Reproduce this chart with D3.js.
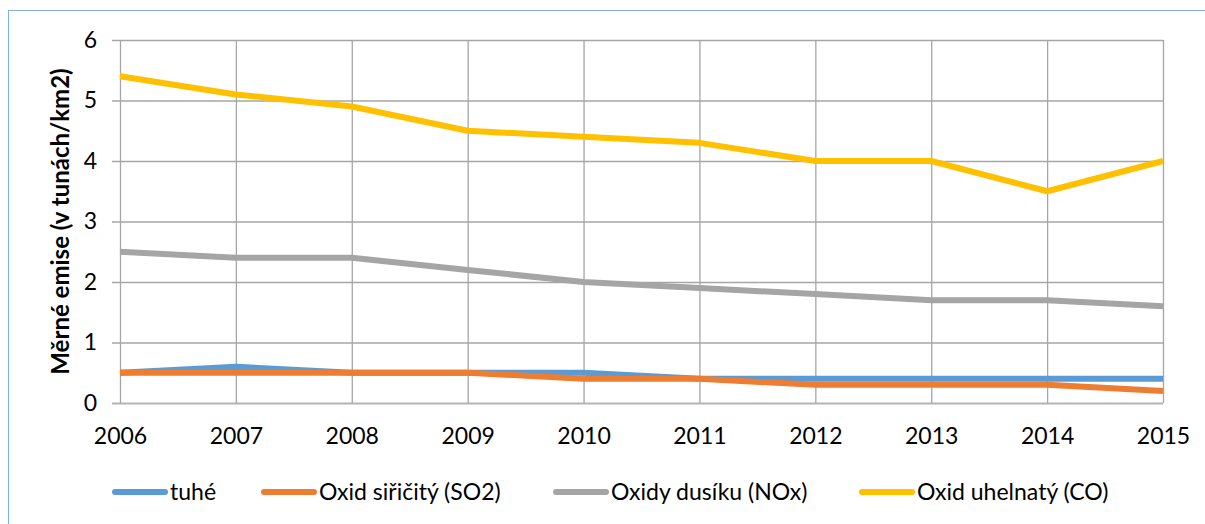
<!DOCTYPE html>
<html>
<head>
<meta charset="utf-8">
<script src="https://cdn.jsdelivr.net/npm/d3@7"></script>
<style>
  body { margin: 0; background: #fff; }
  svg { display: block; font-family: Lato, "Open Sans", sans-serif; }
</style>
</head>
<body>
<div id="chart"></div>
<script>
// data
var years = [2006, 2007, 2008, 2009, 2010, 2011, 2012, 2013, 2014, 2015];
var tuhe = [0.5, 0.6, 0.5, 0.5, 0.5, 0.4, 0.4, 0.4, 0.4, 0.4];
var so2 = [0.5, 0.5, 0.5, 0.5, 0.4, 0.4, 0.3, 0.3, 0.3, 0.2];
var nox = [2.5, 2.4, 2.4, 2.2, 2.0, 1.9, 1.8, 1.7, 1.7, 1.6];
var co = [5.4, 5.1, 4.9, 4.5, 4.4, 4.3, 4.0, 4.0, 3.5, 4.0];
var seriesNames = ["tuhé", "Oxid siřičitý (SO2)", "Oxidy dusíku (NOx)", "Oxid uhelnatý (CO)"];
var seriesColors = ["#5b9bd5", "#ed7d31", "#a5a5a5", "#ffc000"];
var yTicks = [0, 1, 2, 3, 4, 5, 6];
var yTitle = "Měrné emise (v tunách/km2)";

var series = [tuhe, so2, nox, co].map(function(vals, i) {
    return {name: seriesNames[i], color: seriesColors[i], values: vals};
});

var W = 1205, H = 524;
var margin = {top: 40, right: 42, bottom: 121, left: 120};
var width = W - margin.left - margin.right;
var height = H - margin.top - margin.bottom;

var svg = d3.select("#chart").append("svg")
    .attr("width", W)
    .attr("height", H);

// outer chart border
svg.append("rect")
    .attr("x", 8.5).attr("y", 10.5)
    .attr("width", W).attr("height", H)
    .attr("fill", "none")
    .attr("stroke", "#7eb0e0")
    .attr("stroke-width", 1);

var g = svg.append("g")
    .attr("transform", "translate(" + margin.left + "," + margin.top + ")");

var x = d3.scalePoint()
    .domain(years)
    .range([0, width]);

var y = d3.scaleLinear()
    .domain([0, 6])
    .range([height, 0]);

// horizontal gridlines (with the little tick stubs on the left)
g.append("g")
    .attr("transform", "translate(-8,0)")
    .call(d3.axisLeft(y).tickValues(yTicks).tickSize(-width - 8).tickFormat(""))
    .call(function(s) {
        s.select(".domain").remove();
        s.selectAll("line")
            .attr("stroke", d => d === 0 ? "#b3b3b3" : "#a6a6a6")
            .attr("stroke-width", d => d === 0 ? 2 : 1.3);
    });

// vertical gridlines
g.append("g")
    .attr("transform", "translate(0," + height + ")")
    .call(d3.axisBottom(x).tickSize(-height).tickFormat(""))
    .call(function(s) {
        s.select(".domain").remove();
        s.selectAll("line").attr("stroke", "#a6a6a6").attr("stroke-width", 1.3);
    });

// y tick labels
g.append("g")
    .call(d3.axisLeft(y).tickValues(yTicks).tickSize(0).tickPadding(23).tickFormat(d3.format("d")))
    .call(function(s) {
        s.select(".domain").remove();
        s.selectAll("text").attr("font-size", 23).attr("fill", "#000")
            .style("font-family", "Lato, 'Open Sans', sans-serif");
    });

// x tick labels
g.append("g")
    .attr("transform", "translate(0," + height + ")")
    .call(d3.axisBottom(x).tickSize(0).tickPadding(25))
    .call(function(s) {
        s.select(".domain").remove();
        s.selectAll("text").attr("font-size", 23).attr("fill", "#000")
            .style("font-family", "Lato, 'Open Sans', sans-serif");
    });

// y axis title
svg.append("text")
    .attr("transform", "translate(69," + (margin.top + height / 2) + ") rotate(-90)")
    .attr("text-anchor", "middle")
    .attr("font-size", 24)
    .attr("font-weight", "bold")
    .text(yTitle);

// the lines
var line = d3.line()
    .x(function(d, i) { return x(years[i]); })
    .y(function(d) { return y(d); });

g.selectAll(".series")
    .data(series)
    .enter().append("path")
        .attr("class", "series")
        .attr("d", function(d) { return line(d.values); })
        .attr("fill", "none")
        .attr("stroke", function(d) { return d.color; })
        .attr("stroke-width", 6)
        .attr("stroke-linejoin", "round");

// legend
var legendX = [112, 261, 553, 859];
var legendY = 492;
var leg = svg.selectAll(".legend")
    .data(series)
    .enter().append("g")
        .attr("class", "legend")
        .attr("transform", function(d, i) { return "translate(" + legendX[i] + "," + legendY + ")"; });

leg.append("line")
    .attr("x1", 3).attr("x2", 53)
    .attr("stroke", function(d) { return d.color; })
    .attr("stroke-width", 6)
    .attr("stroke-linecap", "round");

leg.append("text")
    .attr("x", 58)
    .attr("dy", "0.35em")
    .attr("font-size", 23)
    .text(function(d) { return d.name; });
</script>
</body>
</html>
